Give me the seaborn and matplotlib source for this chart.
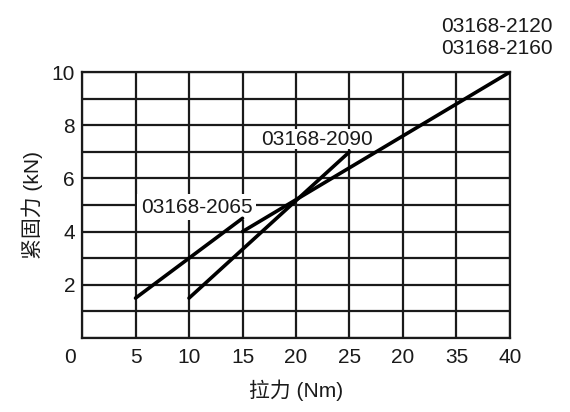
import matplotlib
matplotlib.use("Agg")
import matplotlib.pyplot as plt
import matplotlib.transforms as mtransforms
import numpy as np
import pandas as pd
import seaborn as sns

# data
series_names = ["03168-2065", "03168-2090", "03168-2120"]
x_2065 = [5, 15]
y_2065 = [1.5, 4.5]
x_2090 = [10, 25]
y_2090 = [1.5, 7.0]
x_2120 = [15, 40]
y_2120 = [4.0, 10.0]

x_ticks = [0, 5, 10, 15, 20, 25, 30, 35, 40]
x_tick_labels = ["0", "5", "10", "15", "20", "25", "20", "35", "40"]
y_ticks = list(range(0, 11))
y_tick_labels = ["", "", "2", "", "4", "", "6", "", "8", "", "10"]

df = pd.DataFrame({
    "series": [series_names[0]] * 2 + [series_names[1]] * 2 + [series_names[2]] * 2,
    "torque": x_2065 + x_2090 + x_2120,
    "force": y_2065 + y_2090 + y_2120,
})

sns.set_style("white")
plt.rcParams["font.family"] = ["Liberation Sans", "Noto Sans CJK SC", "DejaVu Sans"]

FS = 15
INK = "#1a1a1a"

fig = plt.figure(figsize=(5.7, 4.12), dpi=100)
ax = fig.add_axes([0.1439, 0.1796, 0.8947 - 0.1439, 0.8252 - 0.1796])

sns.lineplot(
    data=df, x="torque", y="force", hue="series",
    palette=["black"] * 3, estimator=None, sort=False,
    linewidth=2.6, legend=False, ax=ax, zorder=4,
)

ax.set_xlim(0, 40)
ax.set_ylim(0, 10)
ax.set_xticks(x_ticks)
ax.set_xticklabels(x_tick_labels)
ax.set_yticks(y_ticks)
ax.set_yticklabels(y_tick_labels)
ax.tick_params(length=0, labelsize=FS, colors=INK)
ax.tick_params(axis="y", pad=5)
ax.tick_params(axis="x", pad=7)
ax.grid(True, color=INK, linewidth=1.6)
ax.set_axisbelow(True)
for sp in ax.spines.values():
    sp.set_color(INK)
    sp.set_linewidth(1.6)

# "0" on x axis sits a little left in the reference
lbl0 = ax.get_xticklabels()[0]
lbl0.set_transform(lbl0.get_transform() + mtransforms.ScaledTranslation(-12 / 100, 0, fig.dpi_scale_trans))

ax.set_xlabel("拉力 (Nm)", fontsize=FS, color=INK, labelpad=9)
ax.set_ylabel("紧固力 (kN)", fontsize=FS, color=INK, labelpad=6)

# labels sit on white boxes that hide the grid, under the data lines
ax.text(10.7, 4.92, "03168-2065", fontsize=FS, ha="center", va="center",
        color=INK, bbox=dict(facecolor="white", edgecolor="none", pad=2.5), zorder=3)
ax.text(22.0, 7.47, "03168-2090", fontsize=FS, ha="center", va="center",
        color=INK, bbox=dict(facecolor="white", edgecolor="none", pad=0.3), zorder=3)
ax.text(1.1, 1.13, "03168-2120\n03168-2160", transform=ax.transAxes,
        fontsize=FS, ha="right", va="center", color=INK,
        linespacing=1.25, clip_on=False)

fig.savefig("out.png", dpi=100)
